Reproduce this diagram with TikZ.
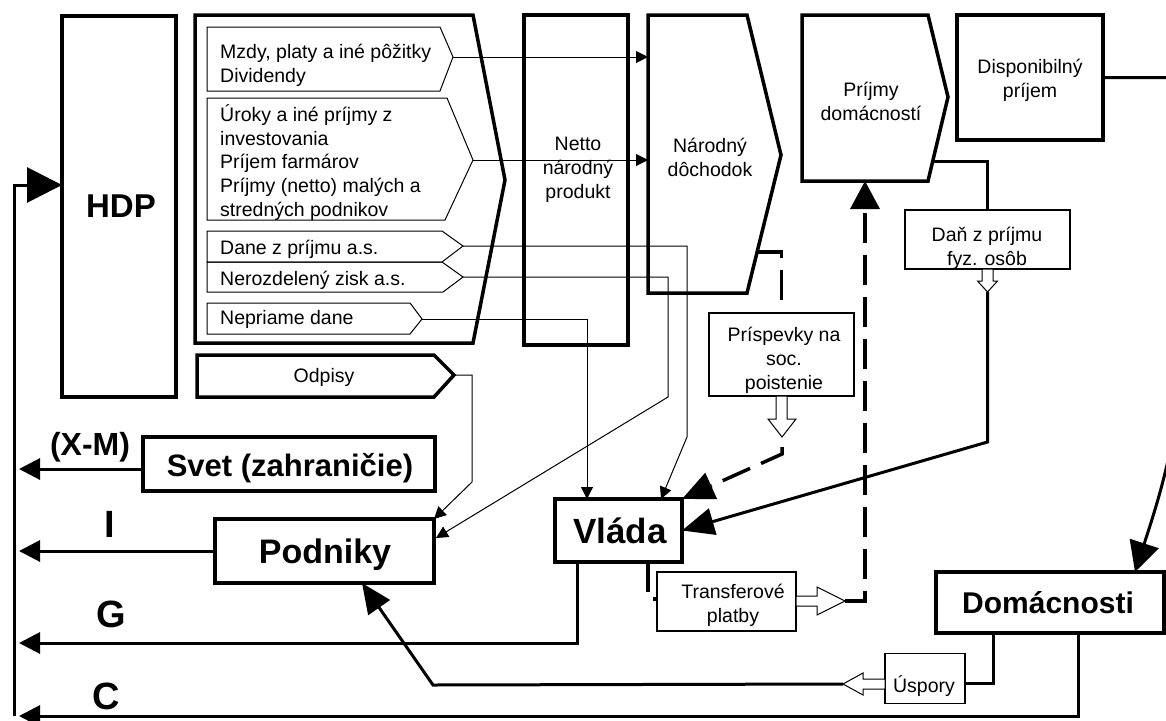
\documentclass[tikz,border=0pt]{standalone}
\usepackage{fontspec}
\setmainfont{Liberation Sans}
\usetikzlibrary{arrows.meta,calc}
\begin{document}
\begin{tikzpicture}[x=1pt,y=-1pt,
  bbox/.style={draw,line width=3.5pt,inner sep=0pt,outer sep=0pt},
  tbox/.style={draw,line width=1.1pt,inner sep=0pt,outer sep=0pt,fill=white},
  shapethick/.style={line width=3.5pt,line join=miter},
  shapethin/.style={line width=1pt},
  lbl/.style={font=\fontsize{19.5}{24}\selectfont,inner sep=0pt,align=center},
  lbll/.style={font=\fontsize{19.5}{23.7}\selectfont,inner sep=0pt,align=left,anchor=west},
  big/.style={font=\fontsize{#1}{#1}\selectfont\bfseries,inner sep=0pt,anchor=base},
  flow/.style={line width=3pt},
  dflow/.style={line width=3.5pt,dash pattern=on 30pt off 12pt},
  thinflow/.style={line width=1pt,-{Triangle[length=12pt,width=12pt]}},
  lefttip/.style={-{Triangle[length=21pt,width=21pt]}},
  hollow/.style={draw,line width=1pt,fill=white},
]
\useasboundingbox (0,0) rectangle (1166,720);
\clip (0,0) rectangle (1166,720);

% ---------- rectangular boxes ----------
\node[bbox,minimum width=114pt,minimum height=381pt] (hdp) at (119,206.5) {};
\node[big=33] (hdpt) at (121,217) {HDP};
\node[bbox,minimum width=104pt,minimum height=330pt] (netto) at (576,180) {};
\node[lbl] (nettot) at (578,170) {Netto\\národný\\produkt};
\node[bbox,minimum width=146pt,minimum height=125pt] (disp) at (1030,77.5) {};
\node[lbl] (dispt) at (1030,80) {Disponibilný\\príjem};
\node[bbox,minimum width=292pt,minimum height=54pt] (svet) at (289,464) {};
\node[big=31] (svett) at (290,476) {Svet (zahraničie)};
\node[bbox,minimum width=219pt,minimum height=64pt] (podniky) at (324.5,551) {};
\node[big=34] (podnikyt) at (325,563) {Podniky};
\node[bbox,minimum width=127pt,minimum height=63pt] (vlada) at (618.5,530.5) {};
\node[big=35] (vladat) at (620,543) {Vláda};
\node[bbox,minimum width=228pt,minimum height=61pt] (domac) at (1050,602.5) {};
\node[big=30] (domact) at (1048,613) {Domácnosti};

% ---------- arrow-shaped boxes ----------
\draw[shapethick] (195,15) -- (473,15) -- (505,180) -- (473,343) -- (195,343) -- cycle;
\coordinate (mzdyA) at (453,57);
\draw[shapethin] (207,27) -- (440,27) -- (mzdyA) -- (440,91) -- (207,91) -- cycle;
\node[lbll] (mzdy) at (220,65) {Mzdy, platy a iné pôžitky\\Dividendy};
\coordinate (urokyA) at (473,160);
\draw[shapethin] (207,98) -- (447,98) -- (urokyA) -- (445,220) -- (207,220) -- cycle;
\node[lbll] (uroky) at (220,162.5) {Úroky a iné príjmy z\\investovania\\Príjem farmárov\\Príjmy (netto) malých a\\stredných podnikov};
\coordinate (daneA) at (463,246);
\draw[shapethin] (207,231) -- (442,231) -- (daneA) -- (442,262) -- (207,262) -- cycle;
\node[lbll] (dane) at (220,249) {Dane z príjmu a.s.};
\coordinate (nerozA) at (463,277);
\draw[shapethin] (207,262) -- (442,262) -- (nerozA) -- (443,292) -- (207,292) -- cycle;
\node[lbll] (neroz) at (220,280) {Nerozdelený zisk a.s.};
\coordinate (neprA) at (422,319);
\draw[shapethin] (207,303) -- (410,303) -- (neprA) -- (410,334) -- (207,334) -- cycle;
\node[lbll] (nepr) at (220,319) {Nepriame dane};
\coordinate (odpA) at (454,375);
\draw[shapethick] (197,355) -- (434,355) -- (odpA) -- (434,397) -- (197,397) -- cycle;
\node[lbl] (odp) at (324,377) {Odpisy};
\coordinate (ndA) at (781,155);
\coordinate (ndL) at (648,15);
\draw[shapethick] (ndL) -- (747,15) -- (ndA) -- (747,293) -- (648,293) -- cycle;
\node[lbl] (nd) at (710,157) {Národný\\dôchodok};
\coordinate (pdA) at (948,97);
\draw[shapethick] (802,15) -- (928,15) -- (pdA) -- (928,181) -- (802,181) -- cycle;
\node[lbl] (pd) at (871,101.5) {Príjmy\\domácností};
\coordinate (pdS) at (933,161);
\coordinate (pdB) at (865,181);
\coordinate (ndS) at (757,252);

% ---------- thin boxes ----------
\node[tbox,minimum width=165pt,minimum height=59pt] (dan) at (987.5,239.5) {};
\node[lbl] (dant) at (987,248) {Daň z príjmu\\fyz. osôb};
\node[tbox,minimum width=145pt,minimum height=83pt] (prisp) at (781.5,354.5) {};
\node[lbl] (prispt) at (784,360) {Príspevky na\\soc.\\poistenie};
\node[tbox,minimum width=139pt,minimum height=59pt] (transf) at (726.5,601.5) {};
\node[lbl] (transft) at (733,605) {Transferové\\platby};
\node[tbox,minimum width=80pt,minimum height=50pt] (uspory) at (925,678.5) {};
\node[lbl] (usporyt) at (924,686) {Úspory};

% ---------- thin connectors ----------
\draw[thinflow] (mzdyA) -- (mzdyA -| ndL);
\draw[thinflow] (urokyA) -- (urokyA -| ndL);
\draw[thinflow] (daneA) -- (687,246) -- (687,437) -- ($(vlada.north west)+(106,0)$);
\draw[thinflow] (nerozA) -- (668,277) -- (668,397) -- ($(podniky.north east)+(2,19)$);
\draw[thinflow] (neprA) -- (587,319) -- ($(vlada.north west)+(32,0)$);
\draw[thinflow] (odpA) -- (472,375) -- (472,482) -- (podniky.north east);

% ---------- main left line and expenditure arrows ----------
\coordinate (vB) at (14,716);
\coordinate (vT) at (14,185);
\draw[flow,-{Triangle[length=35pt,width=35pt]}] (vB) -- (vT) -- (hdp.west |- vT);
\coordinate (xmE) at (19,469);
\coordinate (iE) at (19,551);
\coordinate (gE) at (19,643);
\coordinate (cE) at (19,716);
\draw[flow,lefttip] ($(svet.west)+(0,5)$) -- (xmE);
\draw[flow,lefttip] (podniky.west) -- (iE);
\draw[flow,lefttip] ($(vlada.south west)+(22,0)$) |- (gE);
\draw[flow,lefttip] ($(domac.south west)+(142,0)$) |- (cE);
\node[big=32] (xm) at (90,455) {(X-M)};
\node[big=38] (il) at (110,537) {I};
\node[big=38] (gl) at (111,627) {G};
\node[big=38] (cl) at (106,709) {C};

% ---------- savings ----------
\coordinate (uspR) at (965,683);
\draw[flow] ($(domac.south west)+(57,0)$) |- (uspR);
\draw[flow,-{Triangle[length=30pt,width=26pt]}] (843,684) -- (433,685) -- ($(podniky.south west)+(147,0)$);
\draw[hollow] (885,679) -- (863,679) -- (863,673) -- (843,684) -- (863,695) -- (863,689) -- (885,689) -- cycle;

% ---------- household income tax ----------
\draw[flow] (pdS) -| (dan.north);
\draw[flow,-{Triangle[length=32pt,width=27pt]}] (987.5,292) -- (987.5,442) -- (vlada.east);
\draw[hollow] (982,269) -- (982,281) -- (977.5,281) -- (987.5,292) -- (997.5,281) -- (993,281) -- (993,269) -- cycle;

% ---------- social contributions ----------
\draw[dflow] (ndS) -| (prisp.north);
\draw[dflow,-{Triangle[length=32pt,width=28pt]}] (782,447) -- (782,454) -- (vlada.north east);
\draw[hollow] (776,396) -- (776,419) -- (768,419) -- (782,437) -- (796,419) -- (787,419) -- (787,396) -- cycle;

% ---------- transfers ----------
\draw[dflow] ($(vlada.south west)+(93,0)$) |- (transf.west |- 0,599);
\draw[dflow,-{Triangle[length=28pt,width=29pt]}] (845,601) -| (pdB);
\draw[hollow] (796,596) -- (817,596) -- (817,587) -- (845,601) -- (817,615) -- (817,606) -- (796,606) -- cycle;

% ---------- disposable income to households ----------
\draw[flow,-{Triangle[length=30pt,width=30pt]}] (disp.east) -- (1185,77.5) -- (1185,300) .. controls (1185,420) and (1160,495) .. ($(domac.north east)+(-29,0)$);
\end{tikzpicture}
\end{document}
